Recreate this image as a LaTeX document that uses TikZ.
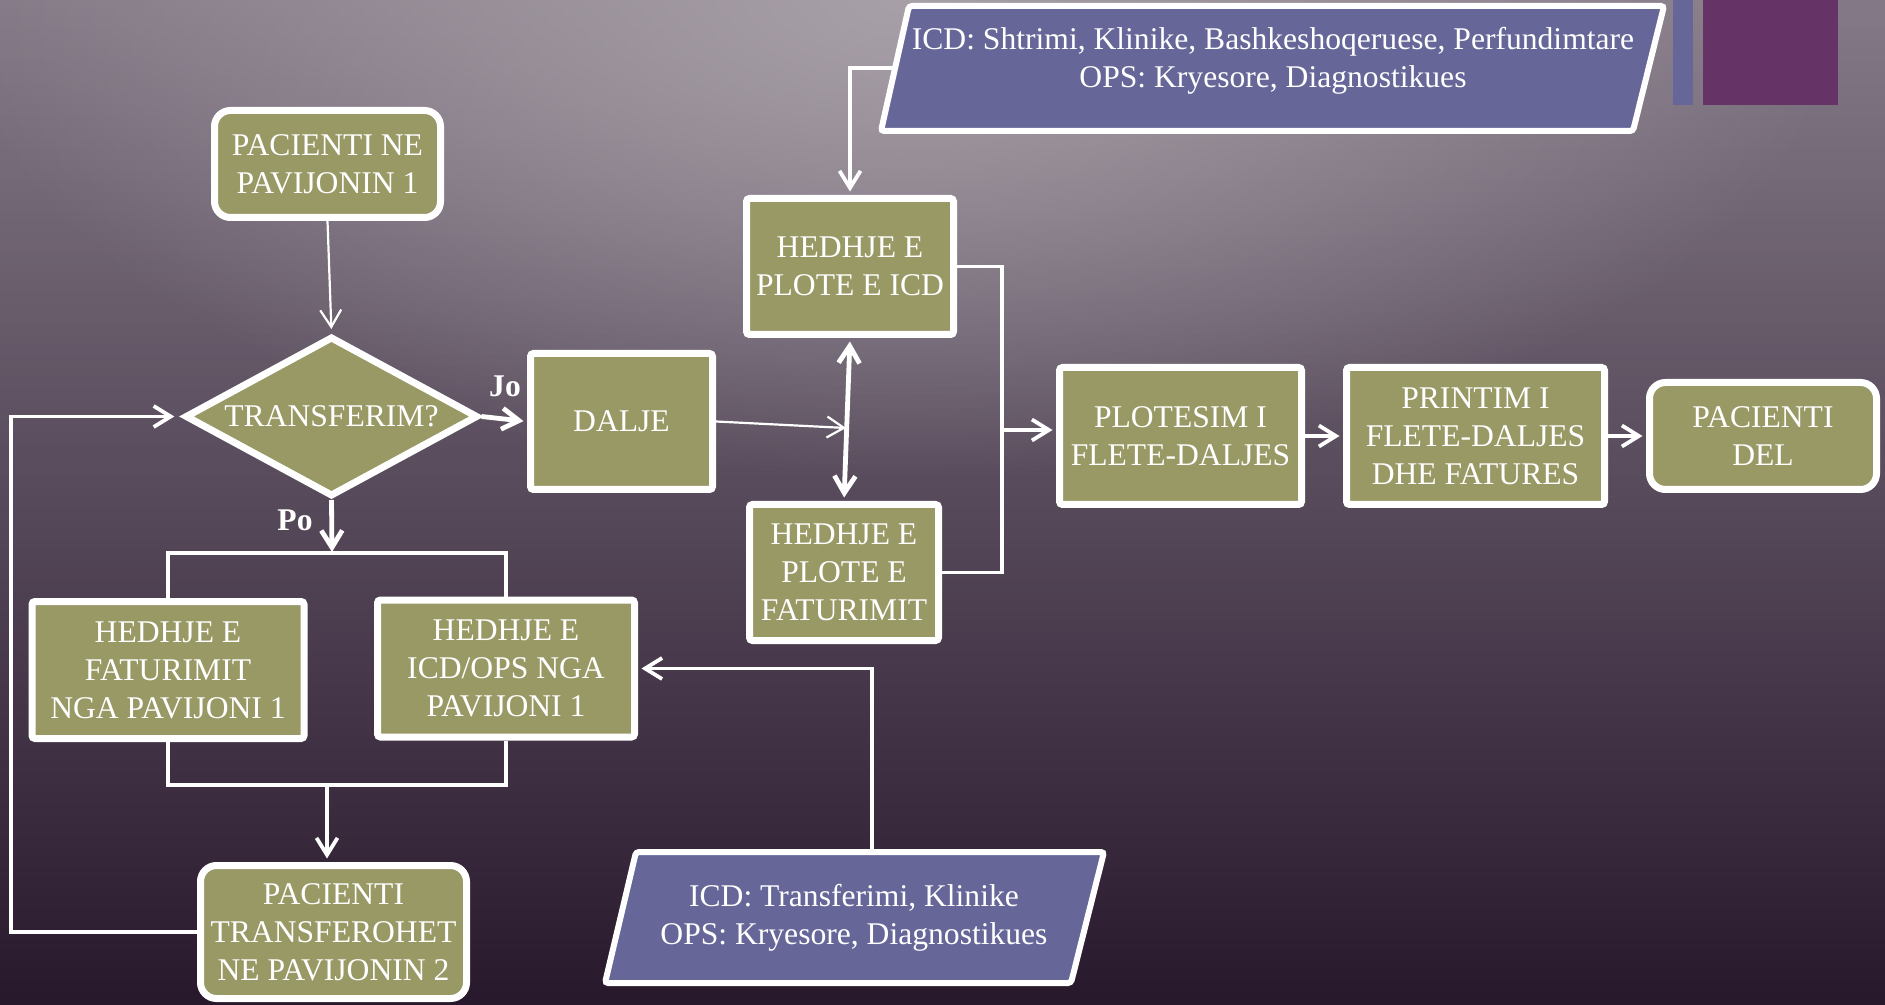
\documentclass[tikz,border=0pt]{standalone}
\usepackage{fontspec}
\setmainfont{Liberation Serif}
\usetikzlibrary{shapes.geometric,arrows.meta,fadings}
\definecolor{olivebox}{RGB}{153,153,102}
\definecolor{parafill}{RGB}{102,102,153}
\definecolor{accentpurple}{RGB}{102,51,102}
\definecolor{bgtop}{RGB}{132,122,135}
\definecolor{bgmid}{RGB}{100,88,106}
\definecolor{bgbot}{RGB}{40,24,44}
\definecolor{glowc}{RGB}{168,160,168}
\tikzfading[name=glowfade, inner color=transparent!0, outer color=transparent!100]
\begin{document}
\begin{tikzpicture}[x=0.5pt,y=-0.5pt,
  every node/.style={text=white, font=\fontsize{15.8}{19}\selectfont, align=center},
  box/.style={draw=white, line width=3.5pt, fill=olivebox, rounded corners=1.5pt, inner sep=2pt},
  rbox/.style={box, rounded corners=8pt},
  dec/.style={diamond, draw=white, line width=3.5pt, fill=olivebox, inner sep=0pt},
  para/.style={draw=white, line width=3pt, fill=parafill, rounded corners=1.5pt},
  conn/.style={draw=white, line width=1.9pt},
  thickconn/.style={draw=white, line width=2.4pt},
  thinconn/.style={draw=white, line width=1.1pt},
  tip/.style={-{Straight Barb[length=8.5pt,width=10.5pt]}},
  arr/.style={conn, tip, shorten >=1.75pt},
  thickarr/.style={thickconn, tip, shorten >=1.75pt},
  thinarr/.style={thinconn, tip},
  lbl/.style={font=\bfseries\fontsize{15.8}{19}\selectfont}
]
\useasboundingbox (0,0) rectangle (1885,1005);
% background
\shade[top color=bgtop, middle color=bgmid, bottom color=bgbot] (0,0) rectangle (1885,1005);
\begin{scope}
\clip (0,0) rectangle (1885,1005);
\fill[glowc, path fading=glowfade] (900,0) ellipse [x radius=950, y radius=480];
\end{scope}
% accent bars
\fill[parafill] (1673,0) rectangle (1693,105);
\fill[accentpurple] (1703,0) rectangle (1838,105);

% input parallelograms
\draw[para] (909,6) -- (1664,6) -- (1633,131) -- (881,131) -- cycle;
\node (toptxt) at (1273,61) {ICD: Shtrimi, Klinike, Bashkeshoqeruese, Perfundimtare\\OPS: Kryesore, Diagnostikues};
\draw[para] (636,852) -- (1104,852) -- (1071,983) -- (605,983) -- cycle;
\node (bottxt) at (854,918) {ICD: Transferimi, Klinike\\OPS: Kryesore, Diagnostikues};

% nodes
\node[rbox, minimum width=113pt, minimum height=53.5pt] (p1) at (327.5,164) {PACIENTI NE\\PAVIJONIN 1};
\node[dec, aspect=1.83, minimum width=146.5pt, minimum height=80pt] (dia) at (331.5,416.5) {TRANSFERIM?};
\node[box, minimum width=91pt, minimum height=68pt] (dalje) at (621.5,421.5) {DALJE};
\node[box, minimum width=103.5pt, minimum height=68pt] (icd) at (850,266.5) {HEDHJE E\\PLOTE E ICD};
\node[box, minimum width=94.5pt, minimum height=68pt] (fat) at (844,572.5) {HEDHJE E\\PLOTE E\\FATURIMIT};
\node[box, minimum width=121pt, minimum height=68.5pt] (plot) at (1180.5,436) {PLOTESIM I\\FLETE-DALJES};
\node[box, minimum width=129pt, minimum height=68.5pt] (print) at (1475.5,436) {PRINTIM I\\FLETE-DALJES\\DHE FATURES};
\node[rbox, minimum width=113.5pt, minimum height=53.5pt] (del) at (1763,436) {PACIENTI\\DEL};
\node[box, minimum width=136pt, minimum height=68.5pt] (b11) at (168,670) {HEDHJE E\\FATURIMIT\\NGA PAVIJONI 1};
\node[box, minimum width=128.5pt, minimum height=68.5pt] (b12) at (506,668.5) {HEDHJE E\\ICD/OPS NGA\\PAVIJONI 1};
\node[rbox, minimum width=133pt, minimum height=66.5pt] (b13) at (333.5,932) {PACIENTI\\TRANSFEROHET\\NE PAVIJONIN 2};

% labels
\node[lbl] (jo) at (505,386) {Jo};
\node[lbl] (po) at (295,520) {Po};

% helper coordinates
\coordinate (pj) at (332,553);
\coordinate (jn) at (327,785);
\coordinate (lp) at (11,416.5);
\coordinate (bp) at (872,852);
\coordinate (dj) at (846,428);
\coordinate (tp) at (895,68);
\coordinate (br) at (1002,430);

% connectors
\draw[thinarr, shorten >=2pt] (p1.south) -- (dia.north);
\draw[thickarr, shorten >=1.75pt] (dia.east) -- (dalje.west);
\draw[thickarr, shorten >=0.5pt] (dia.south) -- (pj);
\draw[conn] (b11.north) -- (b11.north |- pj) -- (b12.north |- pj) -- (b12.north);
\draw[conn] (b11.south) -- (b11.south |- jn) -- (b12.south |- jn) -- (b12.south);
\draw[arr] (jn) -- (jn |- b13.north);
\draw[arr, shorten >=3.6pt] (b13.west) -| (lp) -- (dia.west);
\draw[arr] (bp) |- (b12.east);
\draw[thinarr] (dalje.east) -- (dj);
\draw[thickconn, {Straight Barb[length=8.5pt,width=10.5pt]}-{Straight Barb[length=8.5pt,width=10.5pt]}, shorten <=1.75pt, shorten >=1.75pt] (icd.south) -- (fat.north);
\draw[arr] (tp) -| (icd.north);
\draw[conn] (icd.east) -- (icd.east -| br) -- (fat.east -| br) -- (fat.east);
\draw[arr] (br) -- (br -| plot.west);
\draw[arr] (plot.east) -- (print.west);
\draw[arr] (print.east) -- (del.west);
\end{tikzpicture}
\end{document}
